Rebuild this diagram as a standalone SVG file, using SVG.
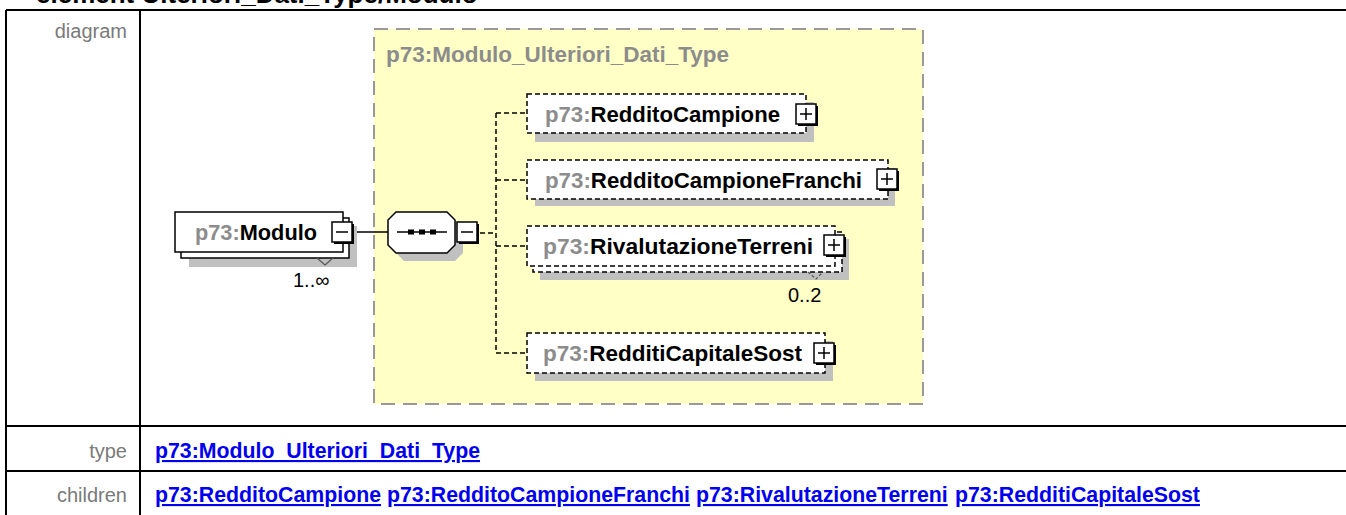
<svg xmlns="http://www.w3.org/2000/svg" xmlns:xlink="http://www.w3.org/1999/xlink" width="1346" height="515" viewBox="0 0 1346 515">
<style>
text{font-family:"Liberation Sans",Arial,sans-serif}
.lbl{font-size:20px;fill:#7a7a7a;text-anchor:end}
.lnk{font-size:21.3px;font-weight:bold;fill:#0000ee;text-decoration:underline}
.nm{font-size:21.3px;font-weight:bold;fill:#000}
.pf{fill:#8c8c8c}
.occ{font-size:20px;fill:#000}
.tbl{stroke:#000;stroke-width:2;fill:none}
.shadow{fill:#c0c0c0}
.box{fill:#fff;stroke:#000;stroke-width:1.5}
.dbox{fill:#fff;stroke:#000;stroke-width:1.5;stroke-dasharray:5 3}
.conn{stroke:#000;stroke-width:1.5;fill:none}
.dconn{stroke:#000;stroke-width:1.5;fill:none;stroke-dasharray:5 3}
</style>
<defs>
<g id="plus">
<rect x="2" y="2" width="20" height="20" fill="#000"/>
<rect x="0" y="0" width="20" height="20" fill="#fff" stroke="#000" stroke-width="1.5"/>
<path d="M4 10H16M10 4V16" stroke="#000" stroke-width="1.5"/>
</g>
<g id="minus">
<rect x="2" y="2" width="20" height="20" fill="#000"/>
<rect x="0" y="0" width="20" height="20" fill="#fff" stroke="#000" stroke-width="1.5"/>
<path d="M4 10H16" stroke="#000" stroke-width="1.5"/>
</g>
</defs>

<text x="36" y="3" style="font-size:26px;font-weight:bold;fill:#000">element Ulteriori_Dati_Type/Modulo</text>

<g id="table">
<path class="tbl" d="M6 10H1346M6 10V515M140 10V515M6 426H1346M6 471H1346"/>
<text class="lbl" x="127" y="38">diagram</text>
<text class="lbl" x="127" y="458">type</text>
<text class="lbl" x="127" y="502">children</text>
<text class="lnk" x="155" y="458">p73:Modulo_Ulteriori_Dati_Type</text>
<text class="lnk" x="155" y="502">p73:RedditoCampione</text>
<text class="lnk" x="387" y="502">p73:RedditoCampioneFranchi</text>
<text class="lnk" x="696" y="502">p73:RivalutazioneTerreni</text>
<text class="lnk" x="955" y="502">p73:RedditiCapitaleSost</text>
</g>

<g id="complexType">
<rect x="374" y="29" width="549" height="375" fill="#ffffc6" stroke="#999" stroke-width="2" stroke-dasharray="14 8"/>
<text x="386" y="62" class="nm" style="fill:#8c8c8c" textLength="343" lengthAdjust="spacingAndGlyphs">p73:Modulo_Ulteriori_Dati_Type</text>
</g>

<g id="connectors">
<path class="conn" d="M354 232H388"/>
<path class="dconn" d="M480 233H496M496 113V353M496 113H527M496 180H527M496 246H527M496 353H527"/>
</g>

<g id="modulo">
<rect class="shadow" x="189" y="226" width="168" height="41"/>
<rect class="box" x="181" y="218" width="168" height="40"/>
<rect class="box" x="175" y="212" width="168" height="40"/>
<path d="M317 258L325 265L333 258" fill="none" stroke="#555" stroke-width="1.2"/>
<text x="195" y="240" class="nm" textLength="122" lengthAdjust="spacingAndGlyphs"><tspan class="pf">p73:</tspan>Modulo</text>
<use xlink:href="#minus" x="332" y="222"/>
<text x="293" y="287" class="occ">1..∞</text>
</g>

<g id="sequence">
<path class="shadow" d="M404 220H455L463 228V253L455 261H404L396 253V228Z"/>
<path d="M396 212H447L455 220V245L447 253H396L388 245V220Z" fill="#fff" stroke="#000" stroke-width="1.5"/>
<path d="M397 232H447" stroke="#000" stroke-width="1.5"/>
<rect x="408" y="229.5" width="6" height="5"/>
<rect x="419" y="229.5" width="6" height="5"/>
<rect x="430" y="229.5" width="6" height="5"/>
<use xlink:href="#minus" x="457" y="222"/>
</g>

<g id="redditoCampione">
<rect class="shadow" x="535" y="102" width="279" height="40"/>
<rect class="dbox" x="527" y="94" width="279" height="39"/>
<text x="545" y="122" class="nm" textLength="235" lengthAdjust="spacingAndGlyphs"><tspan class="pf">p73:</tspan>RedditoCampione</text>
<use xlink:href="#plus" x="796" y="104"/>
</g>

<g id="redditoCampioneFranchi">
<rect class="shadow" x="535" y="168" width="360" height="38"/>
<rect class="dbox" x="527" y="160" width="361" height="39"/>
<text x="545" y="188" class="nm" textLength="317" lengthAdjust="spacingAndGlyphs"><tspan class="pf">p73:</tspan>RedditoCampioneFranchi</text>
<use xlink:href="#plus" x="877" y="169"/>
</g>

<g id="rivalutazioneTerreni">
<rect class="shadow" x="540" y="239" width="309" height="41"/>
<rect class="dbox" x="533" y="232" width="309" height="40"/>
<rect class="dbox" x="527" y="226" width="308" height="40"/>
<path d="M808 272L816 279L823 272" fill="none" stroke="#555" stroke-width="1.2" stroke-dasharray="3 2"/>
<text x="543" y="254" class="nm" textLength="270" lengthAdjust="spacingAndGlyphs"><tspan class="pf">p73:</tspan>RivalutazioneTerreni</text>
<use xlink:href="#plus" x="824" y="235"/>
<text x="788" y="302" class="occ">0..2</text>
</g>

<g id="redditiCapitaleSost">
<rect class="shadow" x="535" y="341" width="298" height="40"/>
<rect class="dbox" x="527" y="333" width="298" height="40"/>
<text x="543" y="361" class="nm" textLength="259" lengthAdjust="spacingAndGlyphs"><tspan class="pf">p73:</tspan>RedditiCapitaleSost</text>
<use xlink:href="#plus" x="814" y="343"/>
</g>
</svg>
